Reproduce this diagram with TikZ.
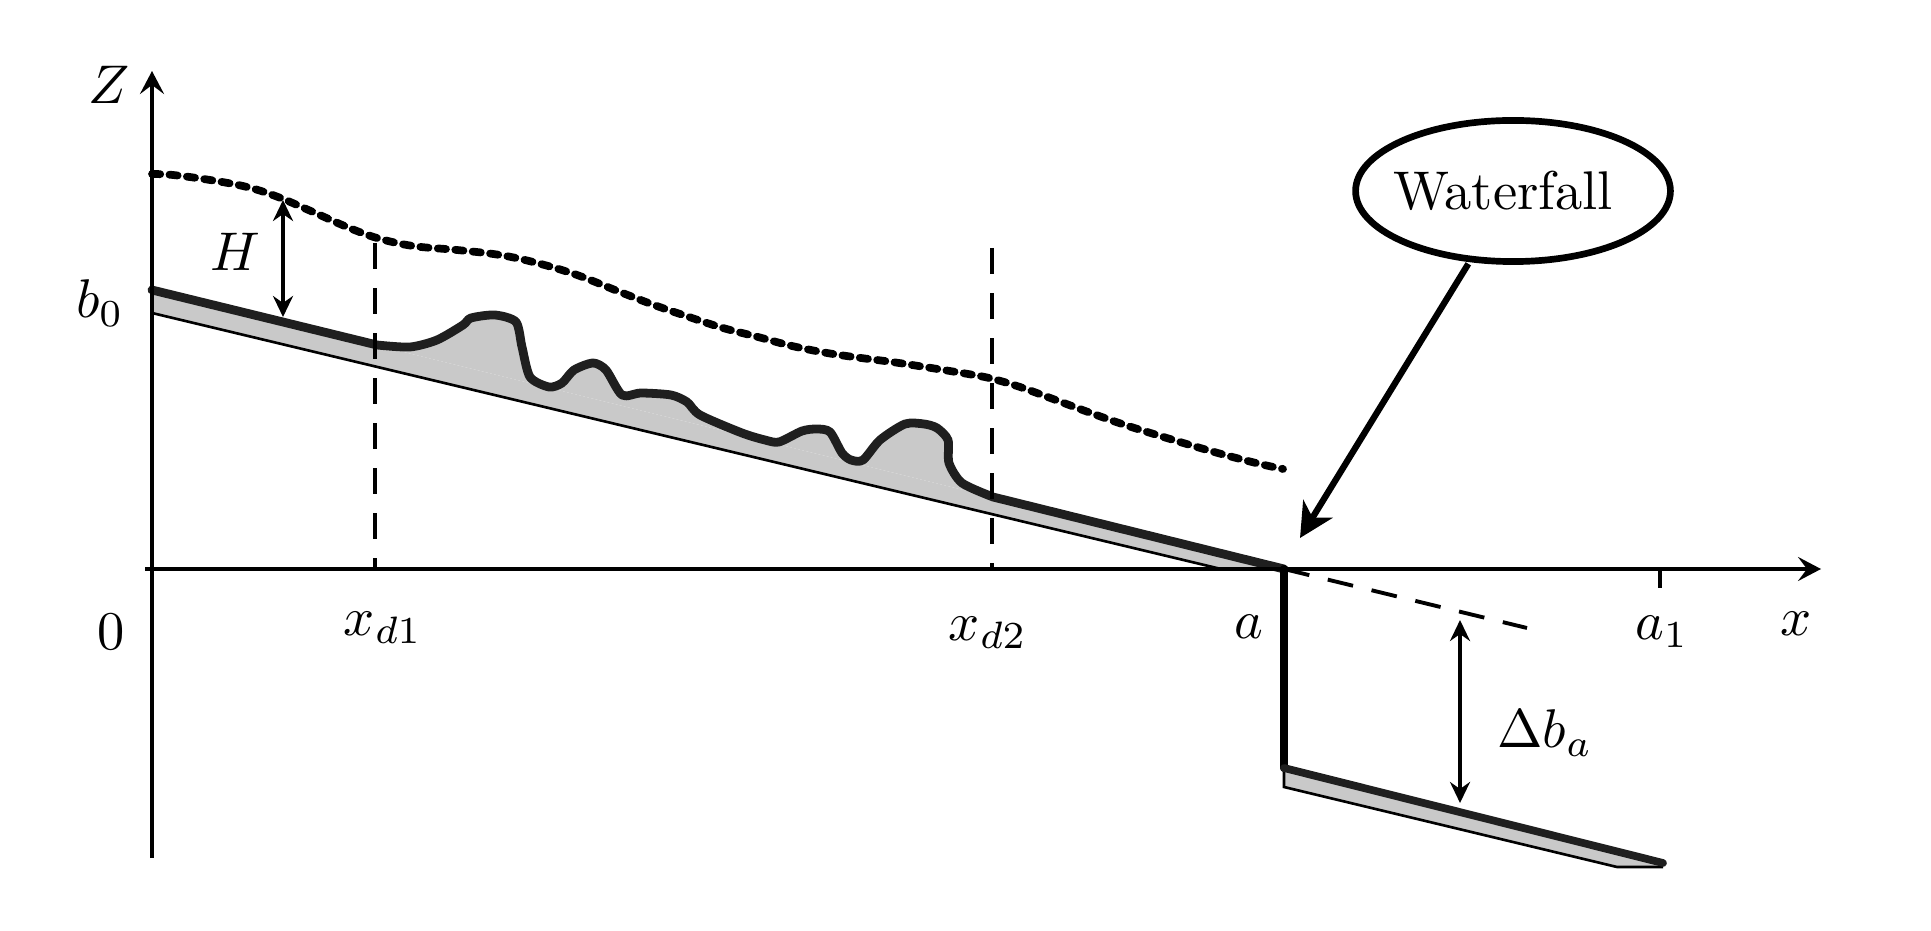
\documentclass[tikz,border=0pt]{standalone}
\usetikzlibrary{arrows.meta,shapes.geometric}
\definecolor{bedgray}{gray}{0.79}
\definecolor{bedblack}{gray}{0.12}
\begin{document}
\begin{tikzpicture}[x=0.01cm, y=-0.01cm]
        \tikzstyle{every node}=[inner sep=0pt, scale=1.55]
        \tikzstyle{axis}=[line width=1.15pt, -{Stealth[length=2.3mm, width=2.4mm, inset=0.9mm]}]
        \tikzstyle{gap}=[line width=1.15pt, {Stealth[length=2.1mm, width=2mm, inset=0.7mm]}-{Stealth[length=2.1mm, width=2mm, inset=0.7mm]}]
        \tikzstyle{bed}=[draw=bedblack, line width=2.5pt, line join=round, line cap=round]
        \tikzstyle{thin bed}=[line width=0.75pt]
        \tikzstyle{long dash}=[line width=1.1pt, dash pattern=on 0.26cm off 0.19cm]
        \tikzstyle{surface}=[line width=2.2pt, line cap=round, dash pattern=on 0.082cm off 0.093cm]

        \useasboundingbox (0,0) rectangle (1931,931);

% The bed, its bump between the two sections and the part below the fall.

        \coordinate (bedstart) at (152,290);
        \coordinate (rock) at (152,313);
        \coordinate (sectionA) at (377,345);
        \coordinate (lip) at (1284,569);
        \coordinate (rockend) at (1221,569);
        \coordinate (foot) at (1284,768);
        \coordinate (footrock) at (1284,787);
        \coordinate (tail) at (1663,863);
        \coordinate (tailrock) at (1617,867);

        \fill[bedgray] (bedstart) -- (lip) -- (rockend) -- (rock) -- cycle;
        \fill[bedgray] (foot) -- (tail) -- (1663,867) -- (tailrock) -- (footrock) -- cycle;
        \draw[thin bed] (rock) -- (rockend);
        \draw[thin bed] (foot) -- (footrock) -- (tailrock) -- (1663,867);
        \draw[bed, fill=bedgray] (bedstart) -- (sectionA) -- plot[smooth, tension=0.45] coordinates {(377,345) (410,347) (437,340) (463,325) (471,318) (495,315) (516,322) (522,347) (530,377) (549,387) (562,383) (574,370) (593,363) (606,370) (622,395) (641,393) (671,395) (687,402) (700,415) (742,433) (765,440) (779,442) (802,431) (817,429) (830,432) (842,453) (851,460) (863,460) (880,440) (905,424) (924,424) (937,428) (948,440) (949,463) (962,483) (993,497)} -- (lip);

% Axes and the sections.

        \draw[axis] (152,858) -- (152,71);
        \draw[axis] (145,569) -- (1821,569);
        \draw[line width=1.15pt] (1660,569) -- (1660,588);
        \draw[long dash] (375,243) -- (375,569);
        \draw[long dash] (992,248) -- (992,569);
        \draw[long dash] (lip) -- (1527,628);
        \draw[line width=2.3pt, line cap=round, black] (lip) -- (foot);
        \draw[bed, line width=2.2pt] (foot) -- (tail);

% The free surface.

        \draw[surface] plot[smooth, tension=0.6] coordinates {(152,174) (173,175) (210,180) (247,187) (278,197) (313,212) (347,227) (377,238) (413,246) (457,250) (500,255) (537,263) (577,275) (620,292) (654,305) (689,317) (723,328) (758,337) (792,346) (827,353) (861,358) (899,363) (968,374) (993,379) (1020,387) (1053,399) (1088,412) (1122,424) (1157,435) (1190,445) (1225,455) (1260,464) (1283,469)};

        \draw[gap] (283,200) -- (283,317);
        \draw[gap] (1460,620) -- (1460,803);

        \node[ellipse, draw, line width=1.9pt, inner sep=-2pt, minimum width=2.03cm, minimum height=0.91cm] (waterfall) at (1513,191) {\raisebox{-0.03cm}{Waterfall}\kern0.13cm};
        \coordinate (falltip) at (1300,538);
        \draw[line width=1.8pt, -{Stealth[length=3.4mm, width=3.4mm, inset=1mm]}] (waterfall) -- (falltip);

        \node (zlabel) at (109,85) {$Z$};
        \node (hlabel) at (235,252) {$H$};
        \node (bzero) at (100,303) {$b_0$};
        \node (zero) at (111,632) {$0$};
        \node (xdone) at (383,628) {$x_{d1}$};
        \node (xdtwo) at (988,633) {$x_{d2}$};
        \node (alabel) at (1249,627) {$a$};
        \node (aone) at (1662,632) {$a_1$};
        \node (xlabel) at (1796,624) {$x$};
        \node (dblabel) at (1545,733) {$\Delta b_a$};

    \end{tikzpicture}
\end{document}
